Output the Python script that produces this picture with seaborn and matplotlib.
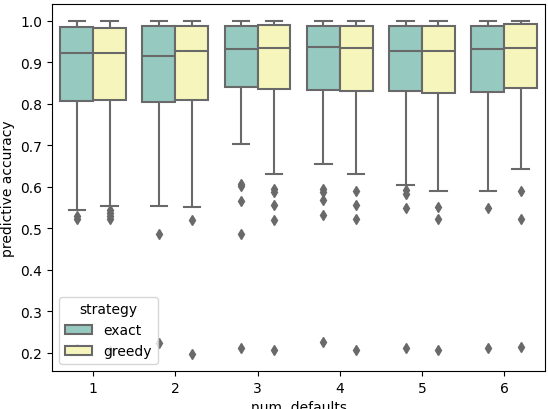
import seaborn as sns
import numpy as np
import pandas as pd
import matplotlib
matplotlib.use("Agg")
import matplotlib.pyplot as plt

defaults = [1, 2, 3, 4, 5, 6]
strategies = ["exact", "greedy"]

# box stats: (num. defaults, strategy) -> value
q1 = {
    "exact":  [0.807, 0.803, 0.840, 0.833, 0.831, 0.828],
    "greedy": [0.809, 0.809, 0.835, 0.831, 0.826, 0.838],
}
median = {
    "exact":  [0.921, 0.914, 0.931, 0.937, 0.928, 0.931],
    "greedy": [0.921, 0.926, 0.934, 0.934, 0.928, 0.934],
}
q3 = {
    "exact":  [0.984, 0.986, 0.988, 0.988, 0.988, 0.988],
    "greedy": [0.982, 0.986, 0.989, 0.988, 0.988, 0.991],
}
whisk_lo = {
    "exact":  [0.543, 0.554, 0.702, 0.655, 0.605, 0.591],
    "greedy": [0.554, 0.552, 0.631, 0.631, 0.590, 0.643],
}
whisk_hi = {
    "exact":  [1.0, 1.0, 1.0, 1.0, 1.0, 1.0],
    "greedy": [1.0, 1.0, 1.0, 1.0, 1.0, 1.0],
}
outliers = {
    "exact": [
        [0.530, 0.522, 0.210],
        [0.486, 0.224],
        [0.606, 0.601, 0.565, 0.486, 0.212],
        [0.595, 0.588, 0.567, 0.533, 0.226],
        [0.592, 0.583, 0.548, 0.212],
        [0.548, 0.212],
    ],
    "greedy": [
        [0.545, 0.537, 0.530, 0.522, 0.205],
        [0.521, 0.197],
        [0.594, 0.588, 0.555, 0.521, 0.208],
        [0.590, 0.556, 0.522, 0.208],
        [0.551, 0.522, 0.208],
        [0.590, 0.522, 0.214],
    ],
}

# build sample points whose quartiles / whiskers equal the read values
rows = []
for s in strategies:
    for i, d in enumerate(defaults):
        out = outliers[s][i]
        m = len(out) + 1
        pts = out + [whisk_lo[s][i]] + [q1[s][i]] * m + [median[s][i]] * m \
            + [q3[s][i]] * m + [whisk_hi[s][i]]
        for p in pts:
            rows.append({"num. defaults": d, "strategy": s, "predictive accuracy": p})
df = pd.DataFrame(rows)

gray = "#696969"
fig, ax = plt.subplots(figsize=(5.48, 4.10), dpi=100)
sns.boxplot(data=df, x="num. defaults", y="predictive accuracy", hue="strategy",
            palette="Set3", saturation=0.75, width=0.8, gap=0, linewidth=1.5,
            linecolor=gray, ax=ax,
            flierprops={"marker": "d", "markerfacecolor": gray,
                        "markeredgecolor": gray, "markersize": 5})
ax.legend(loc="lower left", title="strategy")
plt.subplots_adjust(left=0.095, right=0.995, top=0.988, bottom=0.093)
fig.savefig("out.png", dpi=100)
